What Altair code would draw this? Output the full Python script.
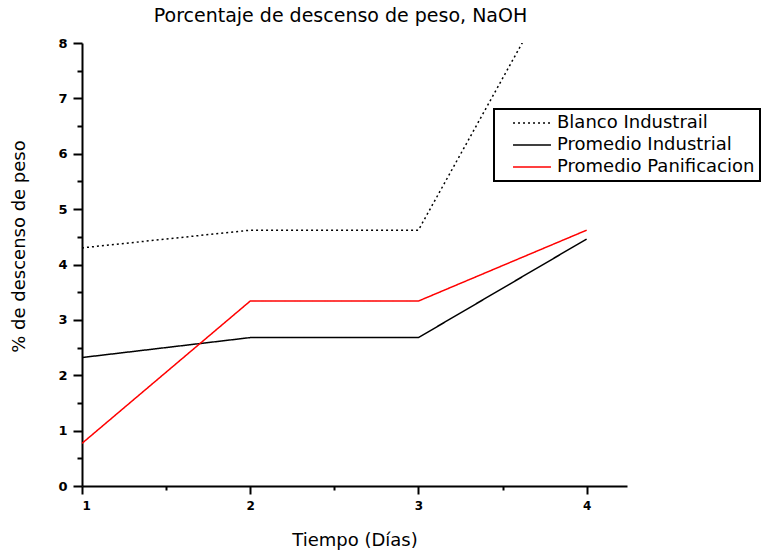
import altair as alt
import pandas as pd

dias = [1, 2, 3, 4]
series_names = ["Blanco Industrail", "Promedio Industrial", "Promedio Panificacion"]
blanco_industrail = [4.30, 4.62, 4.62, 10.1]
promedio_industrial = [2.32, 2.68, 2.68, 4.46]
promedio_panificacion = [0.77, 3.34, 3.34, 4.62]

rows = []
for name, vals in zip(series_names, [blanco_industrail, promedio_industrial, promedio_panificacion]):
    for d, v in zip(dias, vals):
        rows.append({"dia": d, "valor": v, "serie": name})
df = pd.DataFrame(rows)

x_ticks = [1, 1.5, 2, 2.5, 3, 3.5, 4]
y_ticks = [i * 0.5 for i in range(17)]

label_font = "DejaVu Sans"

chart = alt.Chart(df).mark_line(clip=True, strokeWidth=1.5).encode(
    x=alt.X("dia:Q",
            scale=alt.Scale(domain=[1, 4.24], nice=False, zero=False),
            axis=alt.Axis(values=x_ticks,
                          labelExpr="datum.value % 1 === 0 ? toString(datum.value) : ''",
                          title="Tiempo (Días)", grid=False,
                          tickSize={"condition": {"test": "datum.value % 1 !== 0", "value": 4}, "value": 8},
                          labelPadding=6, titlePadding=20,
                          titleFontSize=18, titleFont=label_font, titleFontWeight="normal",
                          labelFontSize=12, labelFontWeight="bold", labelFont=label_font)),
    y=alt.Y("valor:Q",
            scale=alt.Scale(domain=[0, 8], nice=False),
            axis=alt.Axis(values=y_ticks,
                          labelExpr="datum.value % 1 === 0 ? toString(datum.value) : ''",
                          title="% de descenso de peso", grid=False,
                          tickSize={"condition": {"test": "datum.value % 1 !== 0", "value": 5}, "value": 9},
                          labelPadding=6,
                          titleX=-54, titleY=203,
                          titleFontSize=18, titleFont=label_font, titleFontWeight="normal",
                          labelFontSize=13, labelFontWeight="bold", labelFont=label_font)),
    color=alt.Color("serie:N",
                    scale=alt.Scale(domain=series_names, range=["black", "black", "red"]),
                    legend=alt.Legend(title=None, orient="none", legendX=412, legendY=66,
                                      strokeColor="black", fillColor="white", padding=5,
                                      symbolType="M-3,0H3", symbolSize=160, symbolStrokeWidth=1.5,
                                      symbolOffset=24, labelOffset=16, rowPadding=4,
                                      labelFontSize=18, labelFont=label_font, labelLimit=400)),
    strokeDash=alt.StrokeDash("serie:N",
                              scale=alt.Scale(domain=series_names, range=[[2, 3], [1, 0], [1, 0]]),
                              legend=None),
).properties(
    width=545, height=443,
    title=alt.Title("Porcentaje de descenso de peso, NaOH", fontSize=19, font=label_font,
                    fontWeight="normal", baseline="alphabetic", offset=21, dx=-14, dy=25),
    autosize="none",
    padding={"left": 82, "top": 43, "right": 136, "bottom": 66},
).configure_view(stroke=None).configure_axis(
    domainColor="black", domainWidth=2, tickColor="black", tickWidth=2,
    labelColor="black", titleColor="black"
).configure_legend(strokeWidth=2)

chart.save("out.html", embed_options={"renderer": "svg", "actions": False})
